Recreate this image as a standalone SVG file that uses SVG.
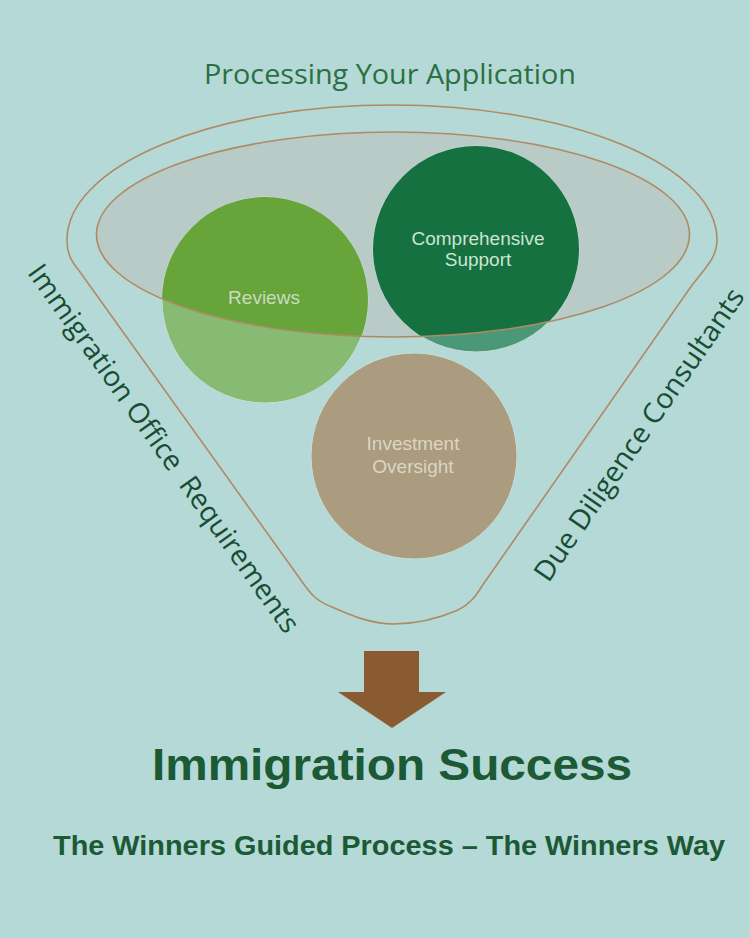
<svg xmlns="http://www.w3.org/2000/svg" width="750" height="938" viewBox="0 0 750 938">
<style>
.bg{fill:#b4d9d6}
.funnel{fill:none;stroke:#b08a62;stroke-width:1.6}
.ctext{font-family:"Liberation Sans",Arial,sans-serif;font-size:19px;text-anchor:middle}
.side{font-family:"Open Sans","DejaVu Sans",sans-serif;font-size:28px;fill:#174d33;text-anchor:middle}
.bold{font-family:"Liberation Sans",Arial,sans-serif;font-weight:bold;fill:#1b5a35;text-anchor:middle}
</style>
<defs>
<clipPath id="inner"><ellipse cx="393" cy="234.5" rx="296.5" ry="102.5"/></clipPath>
</defs>
<rect class="bg" x="0" y="0" width="750" height="938"/>
<text x="390" y="84" font-family="Open Sans, DejaVu Sans, sans-serif" font-size="27" fill="#2b7043" text-anchor="middle" textLength="372" lengthAdjust="spacingAndGlyphs">Processing Your Application</text>
<g id="funnel">
<path class="funnel" d="M 67,240 C 67,255 72,262 80,272 L 303,583 C 310,593 316,601 332,607 C 352,616 372,624 393,624 C 418,624 442,617 458,610 C 470,604 476,596 482,586 L 690,288 C 705,268 717,258 717,240 A 325,135 0 0 0 67,240 Z"/>
<ellipse cx="393" cy="234.5" rx="296.5" ry="102.5" fill="#b8cbc6"/>
</g>
<g id="reviews">
<circle cx="265" cy="300" r="103" fill="#87ba72" stroke="#c9ded6" stroke-width="1"/>
<circle cx="265" cy="300" r="103" fill="#67a43a" clip-path="url(#inner)"/>
<text class="ctext" x="264" y="304" fill="#c8dcc0">Reviews</text>
</g>
<g id="support">
<circle cx="476" cy="249" r="103" fill="#4a9877" stroke="#c9ded6" stroke-width="1"/>
<circle cx="476" cy="249" r="103" fill="#157140" clip-path="url(#inner)"/>
<text class="ctext" x="478" y="245" fill="#cfe3d4">Comprehensive</text>
<text class="ctext" x="478" y="266" fill="#cfe3d4">Support</text>
</g>
<g id="investment">
<circle cx="414" cy="456" r="103" fill="#ab9b7f" stroke="#c9ded6" stroke-width="1"/>
<text class="ctext" x="413" y="450" fill="#dcd6c4">Investment</text>
<text class="ctext" x="413" y="473" fill="#dcd6c4">Oversight</text>
</g>
<ellipse cx="393" cy="234.5" rx="296.5" ry="102.5" class="funnel"/>
<g id="left-label">
<text class="side" transform="translate(156,454) rotate(54.5)" textLength="445" lengthAdjust="spacingAndGlyphs">Immigration Office&#160; Requirements</text>
</g>
<g id="right-label">
<text class="side" transform="translate(647,440) rotate(-55.5)" textLength="348" lengthAdjust="spacingAndGlyphs">Due Diligence Consultants</text>
</g>
<g id="arrow">
<polygon points="364,651 419,651 419,692 446,692 392,728 338,692 364,692" fill="#8a5a30"/>
</g>
<g id="result">
<text class="bold" x="392" y="780" font-size="44" textLength="480" lengthAdjust="spacingAndGlyphs">Immigration Success</text>
<text class="bold" x="389" y="855" font-size="28" textLength="672" lengthAdjust="spacingAndGlyphs">The Winners Guided Process – The Winners Way</text>
</g>
</svg>
